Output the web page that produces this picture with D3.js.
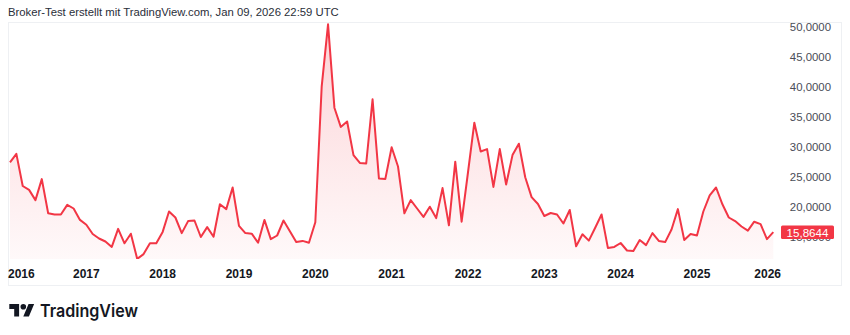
<!DOCTYPE html>
<html>
<head>
<meta charset="utf-8">
<script src="https://cdn.jsdelivr.net/npm/d3@7"></script>
<style>
  html, body { margin: 0; padding: 0; background: #ffffff; }
  svg { display: block; }
</style>
</head>
<body>
<div id="chart"></div>
<script>
// ---- data (monthly closes, Jan 2016 .. Jan 2026) ----
const values = [
  27.5, 28.9, 23.55, 22.9, 21.2, 24.7, 19.0, 18.8, 18.8, 20.4, 19.8, 17.9,
  17.1, 15.55, 14.8, 14.3, 13.4, 16.4, 14.0, 15.6, 11.4, 12.2, 14.0, 14.0,
  15.9, 19.3, 18.3, 15.7, 17.7, 17.8, 15.05, 16.7, 15.1, 20.5, 19.7, 23.3,
  16.9, 15.7, 15.6, 14.1, 17.9, 14.7, 15.3, 17.8, 16.0, 14.2, 14.4, 14.1,
  17.5, 40.1, 50.5, 36.6, 33.4, 34.3, 28.7, 27.4, 27.3, 38.0, 24.8, 24.7,
  30.0, 26.8, 19.0, 21.2, 19.8, 18.4, 20.1, 18.2, 23.2, 17.0, 27.6, 17.6,
  25.8, 34.1, 29.3, 29.7, 23.4, 29.7, 23.8, 28.7, 30.6, 25.0, 21.7, 20.55,
  18.55, 19.05, 18.8, 17.3, 19.55, 13.5, 15.5, 14.45, 16.6, 18.8, 13.2, 13.4,
  14.05, 12.8, 12.7, 14.55, 13.7, 15.7, 14.4, 14.2, 16.3, 19.7, 14.55, 15.55,
  15.3, 19.3, 22.0, 23.3, 20.5, 18.3, 17.7, 16.8, 16.1, 17.6, 17.2, 14.7,
  15.8644
];
const startYear = 2016;
const yearLabels = ["2016","2017","2018","2019","2020","2021","2022","2023","2024","2025","2026"];
const priceTicks = [15, 20, 25, 30, 35, 40, 45, 50];
const lastValue = 15.8644;
const headerText = "Broker-Test erstellt mit TradingView.com, Jan 09, 2026 22:59 UTC";

// ---- layout ----
const W = 850, H = 335;
const RED = "#F23645";
const fmt = v => d3.format(".4f")(v).replace(".", ",");

const svg = d3.select("#chart").append("svg")
  .attr("width", W).attr("height", H)
  .style("font-family", "'Liberation Sans', Arial, sans-serif");

// header
svg.append("text")
  .attr("x", 8).attr("y", 16)
  .attr("font-size", 11.3)
  .attr("fill", "#2a2e39")
  .text(headerText);

// frame
svg.append("rect")
  .attr("x", 8.5).attr("y", 22.5)
  .attr("width", 833).attr("height", 263)
  .attr("fill", "none").attr("stroke", "#eef0f3").attr("stroke-width", 1);

const plotBottom = 259;
const x = d3.scaleLinear().domain([0, values.length - 1]).range([10, 773.3]);
const y = d3.scaleLinear().domain([20, 50]).range([207.3, 27.3]);

// gradient
const defs = svg.append("defs");
const grad = defs.append("linearGradient")
  .attr("id", "fillGrad")
  .attr("gradientUnits", "userSpaceOnUse")
  .attr("x1", 0).attr("x2", 0)
  .attr("y1", y(d3.max(values))).attr("y2", plotBottom);
grad.append("stop").attr("offset", "0%").attr("stop-color", RED).attr("stop-opacity", 0.22);
grad.append("stop").attr("offset", "100%").attr("stop-color", RED).attr("stop-opacity", 0.03);

defs.append("clipPath").attr("id", "plotClip")
  .append("rect").attr("x", 9).attr("y", 23).attr("width", 772).attr("height", plotBottom - 23);

const g = svg.append("g").attr("clip-path", "url(#plotClip)");

const area = d3.area()
  .x((d, i) => x(i))
  .y0(plotBottom)
  .y1(d => y(d));
const line = d3.line()
  .x((d, i) => x(i))
  .y(d => y(d));

g.append("path").datum(values)
  .attr("d", area)
  .attr("fill", "url(#fillGrad)");
g.append("path").datum(values)
  .attr("d", line)
  .attr("fill", "none")
  .attr("stroke", RED)
  .attr("stroke-width", 2)
  .attr("stroke-linejoin", "round");

// price axis
const yAxis = d3.axisRight(y).tickValues(priceTicks).tickFormat(fmt).tickSize(0).tickPadding(0);
const ya = svg.append("g").attr("transform", "translate(831,0)").call(yAxis);
ya.select(".domain").remove();
ya.selectAll("text")
  .attr("text-anchor", "end")
  .attr("font-size", 11.4)
  .attr("font-family", "'Liberation Sans', Arial, sans-serif")
  .attr("fill", "#4a4d57");

// last value label
const ly = y(lastValue);
svg.append("rect")
  .attr("x", 781).attr("y", ly - 6.5)
  .attr("width", 53).attr("height", 13.5)
  .attr("rx", 1.5)
  .attr("fill", RED);
svg.append("text")
  .attr("x", 807.5).attr("y", ly + 0.5)
  .attr("dy", "0.35em")
  .attr("text-anchor", "middle")
  .attr("font-size", 11.6)
  .attr("fill", "#ffffff")
  .text(fmt(lastValue));

// time axis (bar-index based, label at each January)
const xa = svg.append("g");
yearLabels.forEach((lab, k) => {
  const t = xa.append("text")
    .attr("y", 278)
    .attr("font-size", 12)
    .attr("font-weight", "bold")
    .attr("fill", "#131722")
    .attr("text-anchor", "middle")
    .text(lab);
  const w = t.node().getComputedTextLength();
  let cx = x((+lab - startYear) * 12);
  cx = Math.max(8 + w / 2, Math.min(781 - w / 2, cx));
  t.attr("x", cx);
});

// TradingView logo
const logo = svg.append("g").attr("transform", "translate(9.3,301.2) scale(0.7)");
logo.append("path").attr("d", "M14 22H7V11H0V4h14v18zM28 22h-8l7.5-18h8L28 22z").attr("fill", "#131722");
logo.append("circle").attr("cx", 20).attr("cy", 8).attr("r", 4).attr("fill", "#131722");
svg.append("text")
  .attr("x", 40).attr("y", 317)
  .attr("font-size", 17.5)
  .attr("font-weight", 600)
  .attr("font-family", "Inter, 'Liberation Sans', sans-serif")
  .attr("textLength", 98)
  .attr("lengthAdjust", "spacingAndGlyphs")
  .attr("fill", "#131722")
  .text("TradingView");
</script>
</body>
</html>
